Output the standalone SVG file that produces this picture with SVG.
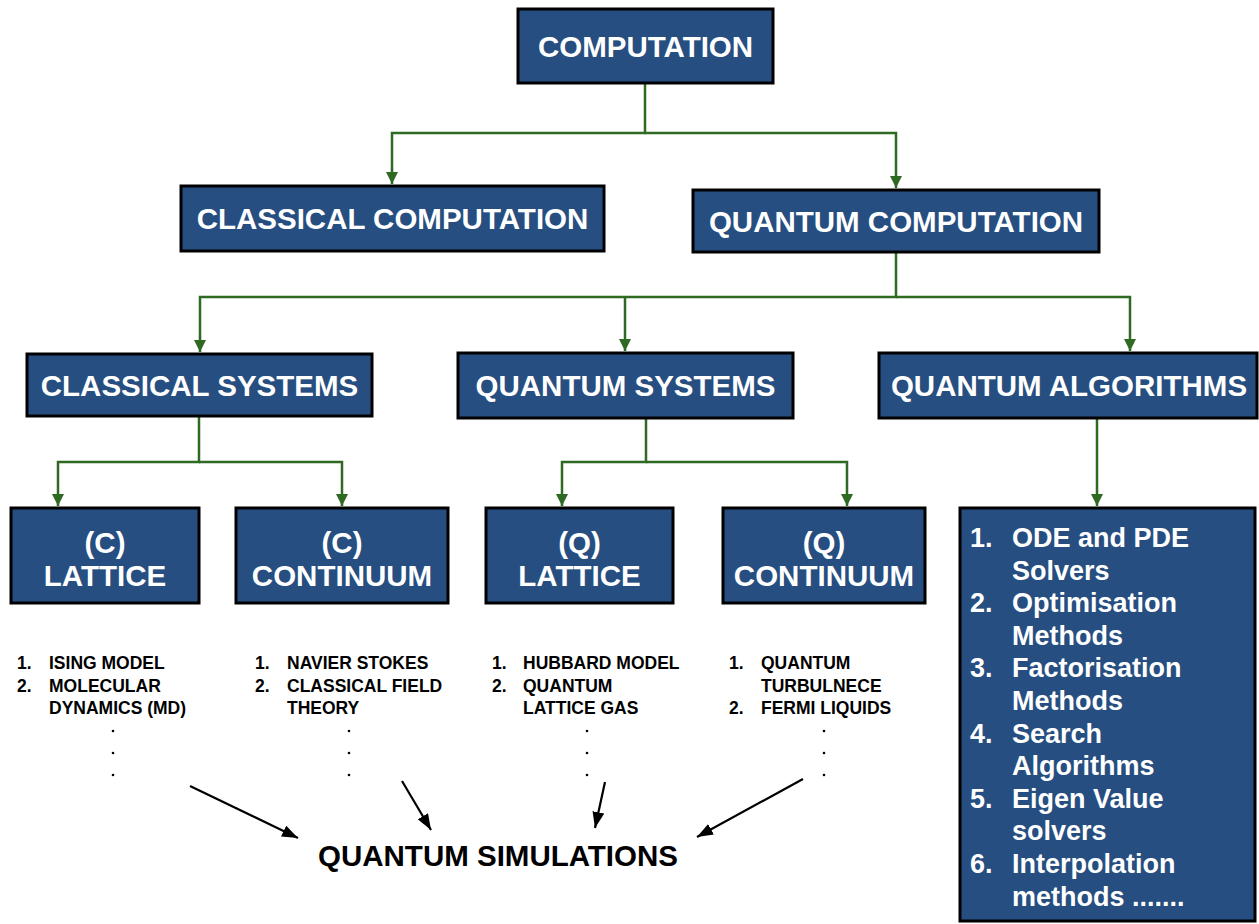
<svg xmlns="http://www.w3.org/2000/svg" width="1259" height="924" viewBox="0 0 1259 924">
  <style>
    .box { fill: #264e80; stroke: #000; stroke-width: 3; }
    .title { font-family: "Liberation Sans", Arial, sans-serif; font-weight: bold; font-size: 29.5px; fill: #fff; text-anchor: middle; }
    .algo { font-family: "Liberation Sans", Arial, sans-serif; font-weight: bold; font-size: 27px; fill: #fff; }
    .item { font-family: "Liberation Sans", Arial, sans-serif; font-weight: bold; font-size: 17.5px; fill: #000; }
    .sim { font-family: "Liberation Sans", Arial, sans-serif; font-weight: bold; font-size: 29.5px; fill: #000; text-anchor: middle; }
    .tree { fill: none; stroke: #2e6a22; stroke-width: 2.5; }
    .feed { fill: none; stroke: #000; stroke-width: 2.2; }
    .dot { fill: #000; }
  </style>
  <defs>
    <marker id="greenHead" viewBox="0 0 12 12" refX="12" refY="6" markerWidth="12" markerHeight="12" markerUnits="userSpaceOnUse" orient="auto">
      <path d="M0,0 L12,6 L0,12 z" fill="#2e6a22"/>
    </marker>
    <marker id="blackHead" viewBox="0 0 16 12" refX="16" refY="6" markerWidth="16" markerHeight="12" markerUnits="userSpaceOnUse" orient="auto">
      <path d="M0,0 L16,6 L0,12 z" fill="#000"/>
    </marker>
  </defs>

  <!-- tree connectors -->
  <g id="connectors">
    <path class="tree" d="M645,84 V133 H392 V184" marker-end="url(#greenHead)"/>
    <path class="tree" d="M645,133 H896 V188" marker-end="url(#greenHead)"/>
    <path class="tree" d="M896,253 V297 H200 V352" marker-end="url(#greenHead)"/>
    <path class="tree" d="M625,297 V351" marker-end="url(#greenHead)"/>
    <path class="tree" d="M896,297 H1130 V351" marker-end="url(#greenHead)"/>
    <path class="tree" d="M199,417 V462 H58 V506" marker-end="url(#greenHead)"/>
    <path class="tree" d="M199,462 H342 V506" marker-end="url(#greenHead)"/>
    <path class="tree" d="M646,419 V462 H562 V506" marker-end="url(#greenHead)"/>
    <path class="tree" d="M646,462 H847 V506" marker-end="url(#greenHead)"/>
    <path class="tree" d="M1097,419 V506" marker-end="url(#greenHead)"/>
    <!-- feeds into quantum simulations -->
    <path class="feed" d="M190,786 L298,838" marker-end="url(#blackHead)"/>
    <path class="feed" d="M402,781 L431,830" marker-end="url(#blackHead)"/>
    <path class="feed" d="M605,782 L595,828" marker-end="url(#blackHead)"/>
    <path class="feed" d="M803,779 L697,837" marker-end="url(#blackHead)"/>
  </g>

  <g id="computation">
    <rect class="box" x="518" y="9" width="255" height="74"/>
    <text class="title" x="645.5" y="57">COMPUTATION</text>
  </g>

  <g id="classical-computation">
    <rect class="box" x="181" y="186" width="423" height="65"/>
    <text class="title" x="392.5" y="229">CLASSICAL COMPUTATION</text>
  </g>

  <g id="quantum-computation">
    <rect class="box" x="693" y="190" width="406" height="62"/>
    <text class="title" x="896" y="231.5">QUANTUM COMPUTATION</text>
  </g>

  <g id="classical-systems">
    <rect class="box" x="27" y="354" width="345" height="62"/>
    <text class="title" x="199.5" y="395.5">CLASSICAL SYSTEMS</text>
  </g>

  <g id="quantum-systems">
    <rect class="box" x="458" y="353" width="335" height="65"/>
    <text class="title" x="625.5" y="396">QUANTUM SYSTEMS</text>
  </g>

  <g id="quantum-algorithms">
    <rect class="box" x="879" y="353" width="378" height="65"/>
    <text class="title" x="1069" y="396">QUANTUM ALGORITHMS</text>
  </g>

  <g id="c-lattice">
    <rect class="box" x="11" y="508" width="188" height="95"/>
    <text class="title" x="105" y="553">(C)</text>
    <text class="title" x="105" y="586">LATTICE</text>
  </g>

  <g id="c-continuum">
    <rect class="box" x="236" y="508" width="212" height="95"/>
    <text class="title" x="342" y="553">(C)</text>
    <text class="title" x="342" y="586">CONTINUUM</text>
  </g>

  <g id="q-lattice">
    <rect class="box" x="486" y="508" width="187" height="95"/>
    <text class="title" x="579.5" y="553">(Q)</text>
    <text class="title" x="579.5" y="586">LATTICE</text>
  </g>

  <g id="q-continuum">
    <rect class="box" x="723" y="508" width="202" height="95"/>
    <text class="title" x="824" y="553">(Q)</text>
    <text class="title" x="824" y="586">CONTINUUM</text>
  </g>

  <g id="algorithm-list">
    <rect class="box" x="960" y="508" width="295" height="413"/>
    <text class="algo" x="970" y="547">1.</text>
    <text class="algo" x="1012" y="547">ODE and PDE</text>
    <text class="algo" x="1012" y="579.6">Solvers</text>
    <text class="algo" x="970" y="612.2">2.</text>
    <text class="algo" x="1012" y="612.2">Optimisation</text>
    <text class="algo" x="1012" y="644.8">Methods</text>
    <text class="algo" x="970" y="677.4">3.</text>
    <text class="algo" x="1012" y="677.4">Factorisation</text>
    <text class="algo" x="1012" y="710">Methods</text>
    <text class="algo" x="970" y="742.6">4.</text>
    <text class="algo" x="1012" y="742.6">Search</text>
    <text class="algo" x="1012" y="775.2">Algorithms</text>
    <text class="algo" x="970" y="807.8">5.</text>
    <text class="algo" x="1012" y="807.8">Eigen Value</text>
    <text class="algo" x="1012" y="840.4">solvers</text>
    <text class="algo" x="970" y="873">6.</text>
    <text class="algo" x="1012" y="873">Interpolation</text>
    <text class="algo" x="1012" y="905.6">methods .......</text>
  </g>

  <g id="c-lattice-examples">
    <text class="item" x="17" y="669">1.</text>
    <text class="item" x="49" y="669">ISING MODEL</text>
    <text class="item" x="17" y="691.5">2.</text>
    <text class="item" x="49" y="691.5">MOLECULAR</text>
    <text class="item" x="49" y="714">DYNAMICS (MD)</text>
    <circle class="dot" cx="113" cy="731" r="1.3"/>
    <circle class="dot" cx="113" cy="753" r="1.3"/>
    <circle class="dot" cx="113" cy="775" r="1.3"/>
  </g>

  <g id="c-continuum-examples">
    <text class="item" x="255" y="669">1.</text>
    <text class="item" x="287" y="669">NAVIER STOKES</text>
    <text class="item" x="255" y="691.5">2.</text>
    <text class="item" x="287" y="691.5">CLASSICAL FIELD</text>
    <text class="item" x="287" y="714">THEORY</text>
    <circle class="dot" cx="349" cy="731" r="1.3"/>
    <circle class="dot" cx="349" cy="753" r="1.3"/>
    <circle class="dot" cx="349" cy="775" r="1.3"/>
  </g>

  <g id="q-lattice-examples">
    <text class="item" x="492" y="669">1.</text>
    <text class="item" x="523" y="669">HUBBARD MODEL</text>
    <text class="item" x="492" y="691.5">2.</text>
    <text class="item" x="523" y="691.5">QUANTUM</text>
    <text class="item" x="523" y="714">LATTICE GAS</text>
    <circle class="dot" cx="587" cy="731" r="1.3"/>
    <circle class="dot" cx="587" cy="753" r="1.3"/>
    <circle class="dot" cx="587" cy="775" r="1.3"/>
  </g>

  <g id="q-continuum-examples">
    <text class="item" x="729" y="669">1.</text>
    <text class="item" x="761" y="669">QUANTUM</text>
    <text class="item" x="761" y="691.5">TURBULNECE</text>
    <text class="item" x="729" y="714">2.</text>
    <text class="item" x="761" y="714">FERMI LIQUIDS</text>
    <circle class="dot" cx="824" cy="731" r="1.3"/>
    <circle class="dot" cx="824" cy="753" r="1.3"/>
    <circle class="dot" cx="824" cy="775" r="1.3"/>
  </g>

  <g id="quantum-simulations">
    <text class="sim" x="498" y="866">QUANTUM SIMULATIONS</text>
  </g>
</svg>
